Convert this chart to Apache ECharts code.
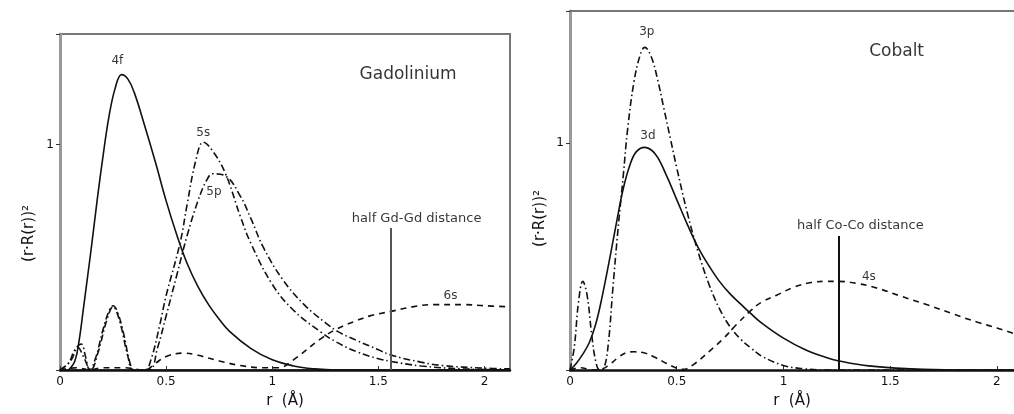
<!DOCTYPE html>
<html><head><meta charset="utf-8">
<script src="https://cdn.jsdelivr.net/npm/echarts@6/dist/echarts.min.js"></script>
<style>html,body{margin:0;padding:0;background:#fff}#c{width:1014px;height:414px}</style>
</head><body><div id="c"></div>
<script>
// ---- data (r in Å, value (r·R(r))²) ----
const xTickLabels = {0:'0', 0.5:'0.5', 1:'1', 1.5:'1.5', 2:'2'};
const yTickLabels = {1:'1'};

// Gadolinium
const gd4f = [[0.04,0],[0.07,0.04],[0.09,0.13],[0.11,0.27],[0.128,0.40],[0.15,0.56],[0.176,0.76],[0.2,0.93],[0.23,1.12],[0.26,1.25],[0.29,1.31],[0.32,1.29],[0.35,1.23],[0.4,1.08],[0.45,0.92],[0.5,0.75],[0.55,0.6],[0.6,0.47],[0.65,0.37],[0.7,0.29],[0.75,0.225],[0.8,0.17],[0.9,0.095],[1.0,0.045],[1.1,0.018],[1.2,0.005],[1.3,0],[2.12,0]];
const gd5s = [[0,0],[0.04,0.03],[0.07,0.09],[0.1,0.115],[0.12,0.06],[0.14,0],[0.17,0.06],[0.2,0.17],[0.23,0.26],[0.25,0.285],[0.27,0.26],[0.3,0.16],[0.33,0.03],[0.35,0],[0.4,0],[0.43,0.05],[0.47,0.2],[0.5,0.33],[0.566,0.565],[0.6,0.74],[0.64,0.93],[0.675,1.01],[0.72,0.97],[0.78,0.87],[0.85,0.68],[0.9,0.56],[1.0,0.38],[1.1,0.265],[1.226,0.17],[1.3,0.125],[1.4,0.08],[1.5,0.05],[1.56,0.038],[1.7,0.018],[1.9,0.005],[2.12,0]];
const gd5p = [[0,0],[0.05,0.04],[0.085,0.1],[0.11,0.06],[0.145,0],[0.18,0.08],[0.22,0.22],[0.25,0.28],[0.28,0.22],[0.32,0.06],[0.345,0],[0.42,0],[0.46,0.1],[0.5,0.24],[0.55,0.42],[0.6,0.6],[0.65,0.75],[0.69,0.84],[0.72,0.87],[0.78,0.86],[0.85,0.77],[0.9,0.67],[0.96,0.54],[1.05,0.4],[1.15,0.29],[1.25,0.21],[1.31,0.17],[1.4,0.13],[1.5,0.09],[1.56,0.066],[1.7,0.035],[1.8,0.02],[2.0,0.008],[2.12,0.005]];
const gd6s = [[0,0],[0.08,0.01],[0.14,0],[0.2,0.01],[0.3,0.01],[0.4,0],[0.45,0.03],[0.5,0.06],[0.58,0.075],[0.65,0.065],[0.75,0.04],[0.85,0.02],[0.95,0.01],[1.03,0.01],[1.1,0.045],[1.226,0.137],[1.3,0.18],[1.4,0.22],[1.46,0.24],[1.56,0.26],[1.66,0.28],[1.76,0.29],[1.9,0.29],[2.0,0.285],[2.12,0.28]];
const gdHalf = [1.56, 0.63];
const gdLabels = [[0.27,1.37,'4f'],[0.675,1.05,'5s'],[0.725,0.79,'5p'],[1.84,0.33,'6s'],[1.68,0.67,'half Gd-Gd distance'],[1.64,1.31,'Gadolinium']];

// Cobalt
const co3p = [[0,0],[0.02,0.1],[0.04,0.3],[0.06,0.39],[0.08,0.33],[0.1,0.17],[0.12,0.04],[0.14,0],[0.16,0.01],[0.18,0.12],[0.2,0.35],[0.225,0.62],[0.25,0.86],[0.27,1.06],[0.3,1.27],[0.33,1.39],[0.35,1.42],[0.38,1.38],[0.41,1.28],[0.44,1.15],[0.47,1.02],[0.5,0.89],[0.55,0.69],[0.6,0.52],[0.65,0.38],[0.7,0.27],[0.75,0.19],[0.8,0.135],[0.85,0.095],[0.9,0.06],[1.0,0.02],[1.1,0.005],[1.2,0],[2.08,0]];
const co3d = [[0,0],[0.03,0.03],[0.06,0.07],[0.09,0.12],[0.12,0.2],[0.15,0.32],[0.19,0.51],[0.22,0.66],[0.25,0.8],[0.28,0.9],[0.31,0.96],[0.35,0.98],[0.4,0.95],[0.45,0.86],[0.5,0.75],[0.55,0.64],[0.6,0.54],[0.65,0.46],[0.7,0.39],[0.75,0.335],[0.8,0.29],[0.845,0.25],[0.9,0.205],[1.0,0.14],[1.1,0.09],[1.2,0.055],[1.26,0.04],[1.4,0.018],[1.6,0.005],[1.8,0],[2.08,0]];
const co4s = [[0,0],[0.05,0.01],[0.1,0],[0.15,0.005],[0.18,0.02],[0.22,0.05],[0.26,0.075],[0.3,0.08],[0.35,0.075],[0.4,0.055],[0.45,0.03],[0.5,0.008],[0.53,0.003],[0.58,0.025],[0.65,0.08],[0.72,0.14],[0.78,0.2],[0.845,0.26],[0.9,0.3],[0.97,0.33],[1.05,0.365],[1.13,0.385],[1.2,0.39],[1.26,0.39],[1.35,0.38],[1.44,0.36],[1.55,0.325],[1.68,0.285],[1.8,0.245],[1.91,0.21],[2.0,0.185],[2.08,0.16]];
const coHalf = [1.26, 0.59];
const coLabels = [[0.36,1.49,'3p'],[0.365,1.03,'3d'],[1.40,0.41,'4s'],[1.36,0.636,'half Co-Co distance'],[1.53,1.40,'Cobalt']];

// ---- styling ----
const FONT = 'DejaVu Sans';
const INK = '#111';
const DASHDOT = [7,3,1.5,3];
const DASHED = [6,5];
const labelSize = {'Gadolinium':17,'Cobalt':17,'half Gd-Gd distance':13,'half Co-Co distance':13};

function xAxis(idx, max){
  return {type:'value', gridIndex:idx, min:0, max:max, interval:0.5,
    axisLine:{show:true, onZero:false, lineStyle:{color:'#111', width:2.5}},
    axisTick:{show:true, inside:true, length:4, lineStyle:{color:'#333'}},
    axisLabel:{showMaxLabel:false, color:'#111', fontFamily:FONT, fontSize:12, margin:6,
      formatter:v=> xTickLabels[v] !== undefined ? xTickLabels[v] : ''},
    splitLine:{show:false},
    name:'r  (Å)', nameLocation:'middle', nameGap:24,
    nameTextStyle:{color:'#111', fontFamily:FONT, fontSize:15}};
}
function topBorder(idx, max){
  return {type:'value', gridIndex:idx, position:'top', min:0, max:max,
    axisLine:{show:true, onZero:false, lineStyle:{color:'#777', width:2}},
    axisTick:{show:false}, axisLabel:{show:false}, splitLine:{show:false}};
}
function yAxis(idx, max){
  return {type:'value', gridIndex:idx, min:0, max:max, interval:1,
    axisLine:{show:true, lineStyle:{color:'#999', width:3}},
    axisTick:{show:true, length:4, lineStyle:{color:'#333'}},
    axisLabel:{color:'#111', fontFamily:FONT, fontSize:12, margin:6,
      formatter:v=> yTickLabels[v] !== undefined ? yTickLabels[v] : ''},
    splitLine:{show:false}};
}
function curve(idx, data, type, width){
  return {type:'line', xAxisIndex:idx, yAxisIndex:idx, data:data, showSymbol:false,
    smooth:0.4, lineStyle:{color:INK, width:width||1.6, type:type}, z:3, silent:true};
}
function halfLine(idx, h, color){
  return {type:'line', xAxisIndex:idx, yAxisIndex:idx, data:[], silent:true,
    markLine:{symbol:'none', silent:true, label:{show:false}, animation:false,
      lineStyle:{type:'solid', color:color, width:2},
      data:[[{coord:[h[0],0]},{coord:[h[0],h[1]]}]]}};
}
function labels(idx, arr){
  return {type:'scatter', xAxisIndex:idx, yAxisIndex:idx, symbolSize:1, silent:true,
    itemStyle:{color:'rgba(0,0,0,0)'}, z:5,
    data:arr.map(d=>({value:[d[0],d[1]], label:{show:true, formatter:d[2], position:'inside',
      color:'#000', fontFamily:FONT, fontSize:labelSize[d[2]]||12}}))};
}

const chart = echarts.init(document.getElementById('c'), null, {renderer:'canvas'});
chart.setOption({
  animation:false,
  backgroundColor:'#fff',
  grid:[
    {left:60, top:34, width:450, height:337, show:true, borderColor:'#777', borderWidth:2, containLabel:false},
    {left:570, top:11, right:0, height:361, show:false, containLabel:false}
  ],
  xAxis:[xAxis(0, 2.12), xAxis(1, 2.08), topBorder(1, 2.08)],
  yAxis:[yAxis(0, 1.49), yAxis(1, 1.58)],
  graphic:[
    {type:'text', left:22, top:205, rotation:Math.PI/2, style:{text:'(r·R(r))²', font:'15px "DejaVu Sans"', fill:'#111'}},
    {type:'text', left:533, top:190, rotation:Math.PI/2, style:{text:'(r·R(r))²', font:'15px "DejaVu Sans"', fill:'#111'}}
  ],
  series:[
    curve(0, gd4f, 'solid'),
    curve(0, gd5s, DASHDOT),
    curve(0, gd5p, DASHDOT),
    curve(0, gd6s, DASHED),
    halfLine(0, gdHalf, '#555'),
    labels(0, gdLabels),
    curve(1, co3p, DASHDOT),
    curve(1, co3d, 'solid'),
    curve(1, co4s, DASHED),
    halfLine(1, coHalf, '#111'),
    labels(1, coLabels)
  ]
});
</script></body></html>
